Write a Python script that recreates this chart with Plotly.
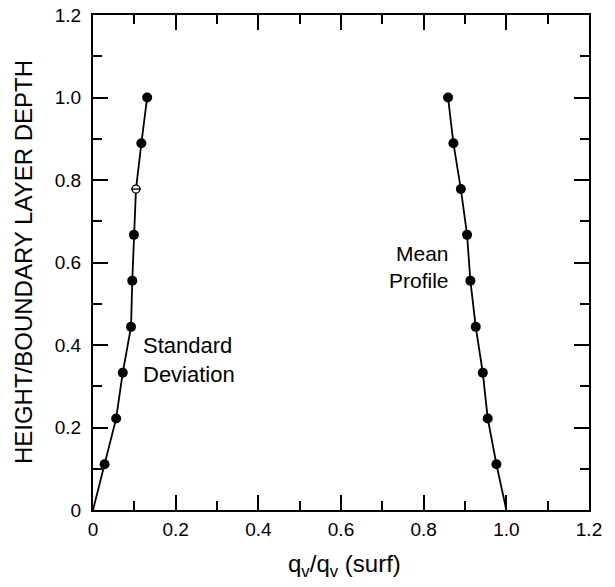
import plotly.graph_objects as go

# ---- data ----
heights = [0.111, 0.222, 0.333, 0.444, 0.556, 0.667, 0.778, 0.889, 1.0]
std_dev = [0.028, 0.056, 0.072, 0.092, 0.095, 0.099, 0.104, 0.117, 0.131]
mean_profile = [0.976, 0.955, 0.943, 0.926, 0.913, 0.905, 0.890, 0.872, 0.859]
std_surface = 0.0      # std line starts at origin
mean_surface = 1.0     # mean profile reaches 1.0 at surface
open_point_height = 0.778
x_ticks = [0, 0.2, 0.4, 0.6, 0.8, 1.0, 1.2]
x_tick_labels = ["0", "0.2", "0.4", "0.6", "0.8", "1.0", "1.2"]
y_ticks = [0, 0.2, 0.4, 0.6, 0.8, 1.0, 1.2]
y_tick_labels = ["0", "0.2", "0.4", "0.6", "0.8", "1.0", "1.2"]
x_title = "q<sub>v</sub>/q<sub>v</sub> (surf)"
y_title = "HEIGHT/BOUNDARY LAYER DEPTH"

FONT = "Liberation Sans, Arial, Helvetica, sans-serif"
BLACK = "black"

fig = go.Figure()

# lines
fig.add_trace(go.Scatter(x=[std_surface] + std_dev, y=[0] + heights, mode="lines",
                         line=dict(color=BLACK, width=1.8), showlegend=False, hoverinfo="skip"))
fig.add_trace(go.Scatter(x=[mean_surface] + mean_profile, y=[0] + heights, mode="lines",
                         line=dict(color=BLACK, width=1.8), showlegend=False, hoverinfo="skip"))

# filled markers
fx = [x for x, h in zip(std_dev, heights) if h != open_point_height]
fy = [h for h in heights if h != open_point_height]
fig.add_trace(go.Scatter(x=fx, y=fy, mode="markers",
                         marker=dict(symbol="circle", size=10, color=BLACK, opacity=1,
                                     line=dict(width=0)),
                         showlegend=False, hoverinfo="skip"))
fig.add_trace(go.Scatter(x=mean_profile, y=heights, mode="markers",
                         marker=dict(symbol="circle", size=10, color=BLACK, opacity=1,
                                     line=dict(width=0)),
                         showlegend=False, hoverinfo="skip"))
# open marker with bar
ox = [x for x, h in zip(std_dev, heights) if h == open_point_height]
oy = [h for h in heights if h == open_point_height]
fig.add_trace(go.Scatter(x=ox, y=oy, mode="markers",
                         marker=dict(symbol="circle", size=8, color="white", opacity=1,
                                     line=dict(color=BLACK, width=1.3)),
                         showlegend=False, hoverinfo="skip"))
fig.add_trace(go.Scatter(x=ox, y=oy, mode="markers",
                         marker=dict(symbol="line-ew", size=7, color=BLACK, opacity=1,
                                     line=dict(color=BLACK, width=1.3)),
                         showlegend=False, hoverinfo="skip"))

fig.add_annotation(x=0.117, y=0.363, xref="x", yref="y", text="Standard<br>Deviation",
                   showarrow=False, xanchor="left", yanchor="middle", align="left",
                   font=dict(family=FONT, size=22, color=BLACK))
fig.add_annotation(x=0.866, y=0.588, xref="x", yref="y", text="Mean<br>Profile",
                   showarrow=False, xanchor="right", yanchor="middle", align="right",
                   font=dict(family=FONT, size=21, color=BLACK))

# axis titles
fig.add_annotation(x=0.508, y=-0.113, xref="paper", yref="paper", text=x_title,
                   showarrow=False, xanchor="center", yanchor="middle",
                   font=dict(family=FONT, size=24, color=BLACK))
fig.add_annotation(x=-0.14, y=0.5, xref="paper", yref="paper", text=y_title,
                   showarrow=False, xanchor="center", yanchor="middle", textangle=-90,
                   font=dict(family=FONT, size=24, color=BLACK))

axis_common = dict(
    showline=True, linecolor=BLACK, linewidth=2, mirror="allticks",
    ticks="inside", ticklen=15, tickwidth=1.5, tickcolor=BLACK,
    showgrid=False, zeroline=False, automargin=False, ticklabeloverflow="allow",
    tickfont=dict(family=FONT, size=19, color=BLACK),
    minor=dict(ticks="inside", ticklen=9, tickwidth=1.5, tickcolor=BLACK, dtick=0.1, showgrid=False),
)

fig.update_xaxes(range=[0, 1.2], tickvals=x_ticks, ticktext=x_tick_labels,
                 ticklabelstandoff=1, **axis_common)
fig.update_yaxes(range=[0, 1.2], tickvals=y_ticks, ticktext=y_tick_labels,
                 ticklabelstandoff=6, **axis_common)

# page body adds an 8px offset; compensate so the plot area sits where the reference has it
fig.update_layout(width=607, height=579, autosize=False,
                  margin=dict(l=85, r=26, t=7, b=77),
                  paper_bgcolor="white", plot_bgcolor="white",
                  font=dict(family=FONT, color=BLACK))

fig.write_html("out.html")
